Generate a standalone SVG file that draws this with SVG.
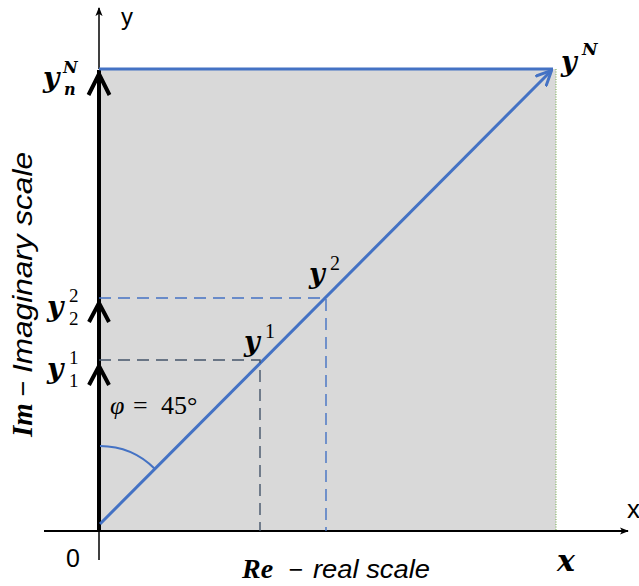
<svg xmlns="http://www.w3.org/2000/svg" width="639" height="586" viewBox="0 0 639 586">
<defs>
<style>
.math{font-family:"DejaVu Serif","Liberation Serif",serif;font-weight:bold;font-style:italic;fill:#000}
.mt{font-family:"Liberation Serif","DejaVu Serif",serif;font-weight:bold;font-style:italic;fill:#000}
.num{font-family:"Liberation Serif","DejaVu Serif",serif;font-weight:normal;font-style:normal;fill:#000}
.sans{font-family:"Liberation Sans",Arial,sans-serif;fill:#000}
.isans{font-family:"Liberation Sans",Arial,sans-serif;font-style:italic;fill:#000}
.blue{stroke:#4472c4;fill:none}
.chev{stroke:#000;stroke-width:4;fill:none;stroke-linecap:butt;stroke-linejoin:miter}
</style>
<marker id="ah" viewBox="0 0 10 10" refX="9" refY="5" markerWidth="9" markerHeight="9" orient="auto" markerUnits="userSpaceOnUse">
<path d="M0,1 L10,5 L0,9 L2.5,5 Z" fill="#000"/>
</marker>
<marker id="bh" viewBox="0 0 10 10" refX="9" refY="5" markerWidth="5.5" markerHeight="5.5" orient="auto">
<path d="M0,0.5 L9.5,5 L0,9.5" fill="none" stroke="#4472c4" stroke-width="1.8"/>
</marker>
</defs>
<rect width="639" height="586" fill="#fff"/>
<g id="area">
<rect x="99" y="69" width="457" height="462" fill="#d9d9d9"/>
<line x1="556" y1="69" x2="556" y2="531" stroke="#70ad47" stroke-width="1" stroke-dasharray="1,1.5"/>
</g>
<g id="connectors">
<line x1="99" y1="69" x2="99" y2="8" stroke="#000" stroke-width="1.5" marker-end="url(#ah)"/>
<line x1="99" y1="531" x2="99" y2="70" stroke="#000" stroke-width="4"/>
<line x1="99" y1="531" x2="99" y2="560" stroke="#000" stroke-width="1.5"/>
<line x1="44" y1="531" x2="628" y2="531" stroke="#000" stroke-width="2" marker-end="url(#ah)"/>
<line x1="99" y1="69" x2="553" y2="69" class="blue" stroke-width="3"/>
<line x1="100" y1="524" x2="551" y2="71" class="blue" stroke-width="3" marker-end="url(#bh)"/>
<path d="M99,298 H326 V531" fill="none" stroke="#4472c4" stroke-width="1.4" stroke-dasharray="12,7"/>
<path d="M99,360 H260 V531" fill="none" stroke="#44546a" stroke-width="1.4" stroke-dasharray="12,7"/>
<path d="M100,446 A78,78 0 0 1 155,469" class="blue" stroke-width="2"/>
<path d="M88.5,95 L99,74 L109.5,95" class="chev"/>
<path d="M89,322 L99,303 L109,322" class="chev"/>
<path d="M89,385 L99,366 L109,385" class="chev"/>
</g>
<g id="labels">
<text x="121" y="25" class="sans" font-size="24">y</text>
<text x="43" y="87" class="math" font-size="28">y</text>
<text x="63" y="73" class="math" font-size="16">N</text>
<text x="64" y="95" class="math" font-size="16">n</text>
<text x="47" y="316" class="math" font-size="28">y</text>
<text x="69" y="302" class="num" font-size="19">2</text>
<text x="69" y="325" class="num" font-size="19">2</text>
<text x="47" y="378" class="math" font-size="28">y</text>
<text x="69" y="364" class="num" font-size="19">1</text>
<text x="69" y="387" class="num" font-size="19">1</text>
<text y="414" font-family="Liberation Serif,serif" font-size="26"><tspan x="110" font-style="italic">φ</tspan><tspan x="133">=</tspan><tspan x="161">45°</tspan></text>
<text x="244" y="351" class="math" font-size="27">y</text>
<text x="265" y="338" class="num" font-size="20">1</text>
<text x="309" y="283" class="math" font-size="27">y</text>
<text x="330" y="270" class="num" font-size="20">2</text>
<text x="561" y="71" class="math" font-size="27">y</text>
<text x="582" y="55" class="math" font-size="17">N</text>
<text x="557" y="571" class="math" font-size="30">x</text>
<text x="627" y="518" class="sans" font-size="26">x</text>
<text x="66" y="567" class="sans" font-size="25">0</text>
<text y="578"><tspan x="242" class="mt" font-size="28">Re</tspan><tspan x="288" class="isans" font-size="25">−</tspan><tspan x="313" class="isans" font-size="25" textLength="117" lengthAdjust="spacingAndGlyphs">real scale</tspan></text>
<text transform="translate(32,437) rotate(-90)"><tspan x="0" class="mt" font-size="29">Im</tspan><tspan x="40" class="isans" font-size="27">−</tspan><tspan x="64" class="isans" font-size="27" textLength="221" lengthAdjust="spacingAndGlyphs">Imaginary scale</tspan></text>
</g>
</svg>
